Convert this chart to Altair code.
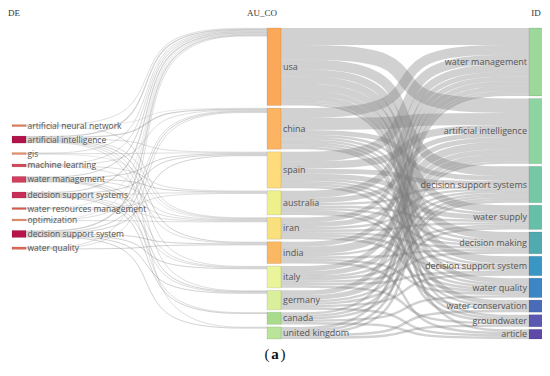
import altair as alt
import pandas as pd

# ---------------- data ----------------
DE = ["artificial neural network", "artificial intelligence", "gis", "machine learning",
      "water management", "decision support systems", "water resources management",
      "optimization", "decision support system", "water quality"]
AU_CO = ["usa", "china", "spain", "australia", "iran", "india", "italy", "germany",
         "canada", "united kingdom"]
ID = ["water management", "artificial intelligence", "decision support systems",
      "water supply", "decision making", "decision support system", "water quality",
      "water conservation", "groundwater", "article"]

DE_COLORS = ["#e47a58", "#b2134b", "#eb9066", "#d64a5c", "#d23f5c", "#c92e58",
             "#db5a4e", "#e8906a", "#b8124a", "#e06a55"]
CO_COLORS = ["#fba958", "#fdb462", "#fedc7c", "#eef08c", "#f8e07c", "#fbb862",
             "#eaf49a", "#d9ef9b", "#a8dc8c", "#b9e49a"]
ID_COLORS = ["#9cd89a", "#8ed4a0", "#74c9a4", "#66bfa8", "#50aab0", "#3a96c2",
             "#3d86c6", "#4a6cb8", "#5a58b0", "#5e48a8"]

# DE -> AU_CO flows
DE_CO_FLOWS = {
    "artificial neural network": {"usa": 0.3, "china": 0.2, "iran": 0.3},
    "artificial intelligence": {"usa": 0.5, "china": 0.5, "spain": 0.3, "iran": 0.3,
                                "india": 0.4, "italy": 0.3, "germany": 0.3, "united kingdom": 0.3},
    "gis": {"usa": 0.3, "spain": 0.3, "iran": 0.2},
    "machine learning": {"usa": 0.3, "china": 0.3, "australia": 0.3, "india": 0.3},
    "water management": {"usa": 0.4, "spain": 0.4, "australia": 0.4, "iran": 0.3,
                         "italy": 0.3, "germany": 0.4, "canada": 0.3},
    "decision support systems": {"usa": 0.5, "spain": 0.4, "australia": 0.3, "iran": 0.3,
                                 "italy": 0.3, "germany": 0.3, "canada": 0.4},
    "water resources management": {"usa": 0.2, "australia": 0.3, "iran": 0.3},
    "optimization": {"usa": 0.2, "china": 0.3, "iran": 0.3},
    "decision support system": {"usa": 0.5, "china": 0.4, "spain": 0.4, "india": 0.4,
                                "italy": 0.4, "germany": 0.4, "united kingdom": 0.4},
    "water quality": {"usa": 0.3, "china": 0.3, "india": 0.4},
}

# AU_CO (rows) -> ID (columns, in ID order) flows
CO_ID_FLOWS = [
    [7, 6, 4, 3, 3, 3, 2, 2, 1, 1],
    [4, 5, 2, 1, 1, 1, 1, 1, 1, 0],
    [4, 3, 2, 2, 1, 1, 1, 0, 1, 0],
    [3, 2, 1, 1, 1, 0, 1, 1, 0, 0],
    [2, 2, 1, 1, 1, 1, 1, 0, 0, 0],
    [2, 3, 1, 0, 1, 0, 1, 0, 0, 1],
    [2, 2, 1, 1, 1, 1, 0, 0, 1, 0],
    [2, 2, 1, 1, 0, 1, 0, 0, 0, 1],
    [1, 1, 1, 0, 0, 0, 1, 0, 0, 1],
    [1, 1, 1, 0, 0, 0, 0, 1, 1, 0],
]

TITLES = ["DE", "AU_CO", "ID"]

# ---------------- layout (simple sankey) ----------------
COL_X = [12, 267, 529]
NODE_W = 14
TOP, BOT = 28, 339
PAD = 2.5
LEFT_PAD = 9.5
LEFT_CENTER = 187

links = []
for d in DE:
    for c, v in DE_CO_FLOWS[d].items():
        links.append((("DE", d), ("CO", c), v))
for i, c in enumerate(AU_CO):
    for j, t in enumerate(ID):
        if CO_ID_FLOWS[i][j] > 0:
            links.append((("CO", c), ("ID", t), CO_ID_FLOWS[i][j]))

cols = [[("DE", d) for d in DE], [("CO", c) for c in AU_CO], [("ID", t) for t in ID]]
colors = {}
for col, pal in zip(cols, [DE_COLORS, CO_COLORS, ID_COLORS]):
    for k, cc in zip(col, pal):
        colors[k] = cc

vin = {}
vout = {}
for s, t, v in links:
    vout[s] = vout.get(s, 0) + v
    vin[t] = vin.get(t, 0) + v
val = {k: max(vin.get(k, 0), vout.get(k, 0)) for col in cols for k in col}

ky = min((BOT - TOP - (len(col) - 1) * PAD) / sum(val[k] for k in col) for col in cols[1:])

ypos = {}
hs = [val[k] * ky for k in cols[0]]
total = sum(hs) + LEFT_PAD * (len(hs) - 1)
y = LEFT_CENTER - total / 2
for k, h in zip(cols[0], hs):
    ypos[k] = (y, y + h)
    y += h + LEFT_PAD
for col in cols[1:]:
    y = TOP
    for k in col:
        h = val[k] * ky
        ypos[k] = (y, y + h)
        y += h + PAD

colidx = {k: ci for ci, col in enumerate(cols) for k in col}

src_off = {k: 0.0 for k in ypos}
tgt_off = {k: 0.0 for k in ypos}
link_y0 = {}
link_y1 = {}
order_src = sorted(range(len(links)), key=lambda i: (links[i][0], ypos[links[i][1]][0]))
for i in order_src:
    s, t, v = links[i]
    w = v * ky
    link_y0[i] = ypos[s][0] + src_off[s] + w / 2
    src_off[s] += w
order_tgt = sorted(range(len(links)), key=lambda i: (links[i][1], ypos[links[i][0]][0]))
for i in order_tgt:
    s, t, v = links[i]
    w = v * ky
    link_y1[i] = ypos[t][0] + tgt_off[t] + w / 2
    tgt_off[t] += w

rows = []
for i, (s, t, v) in enumerate(links):
    x0 = COL_X[colidx[s]] + NODE_W
    x1 = COL_X[colidx[t]]
    xm = (x0 + x1) / 2
    y0, y1 = link_y0[i], link_y1[i]
    for k, (px, py) in enumerate([(x0, y0), (xm, y0), (xm, y1), (x1, y1)]):
        rows.append({"lid": i, "k": k, "x": px, "y": py, "w": v * ky})
link_df = pd.DataFrame(rows)

node_rows = []
for k in ypos:
    ci = colidx[k]
    y0, y1 = ypos[k]
    node_rows.append({"name": k[1], "col": ci, "x": COL_X[ci], "x2": COL_X[ci] + NODE_W,
                      "y": y0, "y2": y1, "ym": (y0 + y1) / 2, "color": colors[k]})
node_df = pd.DataFrame(node_rows)

# ---------------- chart ----------------
W, H = 534, 360
xs = alt.Scale(domain=[8, 8 + W], range=[0, W], nice=False, zero=False)
ys = alt.Scale(domain=[8, 8 + H], range=[0, H], nice=False, zero=False)

link_layer = alt.Chart(link_df).mark_line(
    interpolate="basis", strokeCap="butt", color="#7a7a7a", opacity=0.35
).encode(
    x=alt.X("x:Q", scale=xs, axis=None),
    y=alt.Y("y:Q", scale=ys, axis=None),
    detail="lid:N",
    order="k:Q",
    strokeWidth=alt.StrokeWidth("w:Q", scale=None, legend=None),
)

node_layer = alt.Chart(node_df).mark_rect(stroke="#000000", strokeOpacity=0.12, strokeWidth=0.8).encode(
    x=alt.X("x:Q", scale=xs, axis=None),
    x2="x2:Q",
    y=alt.Y("y:Q", scale=ys, axis=None),
    y2="y2:Q",
    color=alt.Color("color:N", scale=None, legend=None),
)

base_font = dict(font="Open Sans", color="#555555", baseline="middle")

lab_left = alt.Chart(node_df[node_df.col == 0]).mark_text(
    align="left", dx=NODE_W + 1.5, fontSize=8.5, **base_font).encode(
    x=alt.X("x:Q", scale=xs, axis=None), y=alt.Y("ym:Q", scale=ys, axis=None), text="name:N")
lab_mid = alt.Chart(node_df[node_df.col == 1]).mark_text(
    align="left", dx=NODE_W + 2, fontSize=9, **base_font).encode(
    x=alt.X("x:Q", scale=xs, axis=None), y=alt.Y("ym:Q", scale=ys, axis=None), text="name:N")
lab_right = alt.Chart(node_df[node_df.col == 2]).mark_text(
    align="right", dx=-2, fontSize=9, **base_font).encode(
    x=alt.X("x:Q", scale=xs, axis=None), y=alt.Y("ym:Q", scale=ys, axis=None), text="name:N")

title_df = pd.DataFrame({"t": TITLES, "x": [COL_X[0] + 2, COL_X[1] - 5, COL_X[2] + 7],
                         "y": [12.5, 12.5, 12.5]})
title_layer = alt.Chart(title_df).mark_text(
    font="Liberation Serif", fontSize=9, color="#333333", baseline="middle", align="center"
).encode(x=alt.X("x:Q", scale=xs, axis=None), y=alt.Y("y:Q", scale=ys, axis=None), text="t:N")

cap_df = pd.DataFrame({"t": ["(", "a", ")"], "x": [269.5, 275, 280.5], "y": [354, 354, 354],
                       "a": ["right", "center", "left"], "b": ["normal", "bold", "normal"]})
cap_parts = []
for _, r in cap_df.iterrows():
    cap_parts.append(
        alt.Chart(cap_df[cap_df.t == r.t]).mark_text(
            font="Liberation Serif", fontSize=15, color="#111111", baseline="middle",
            align=r.a, fontWeight=r.b
        ).encode(x=alt.X("x:Q", scale=xs, axis=None), y=alt.Y("y:Q", scale=ys, axis=None), text="t:N")
    )

chart = alt.layer(link_layer, node_layer, lab_left, lab_mid, lab_right, title_layer, *cap_parts).properties(
    width=W, height=H, autosize=alt.AutoSizeParams(type="none"), padding=0,
    background="white"
).configure_view(stroke=None)

chart.save("out.html", embed_options={"renderer": "svg", "actions": False})
